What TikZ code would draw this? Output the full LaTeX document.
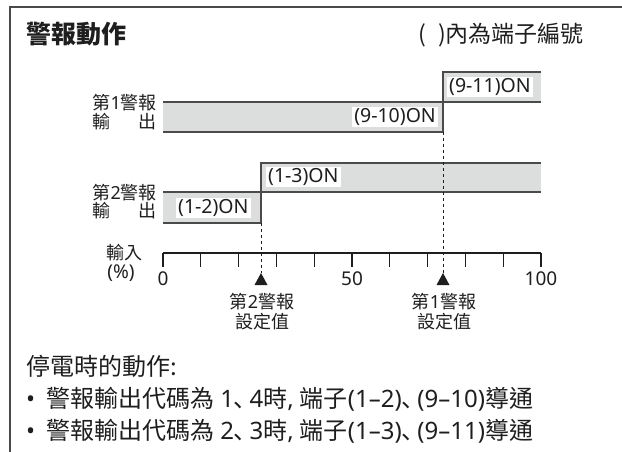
\documentclass[tikz,border=0pt]{standalone}
\usepackage{fontspec}
\setmainfont{Noto Sans CJK TC}
\newfontfamily\lat{Noto Sans}
\newfontfamily\cjksc[RawFeature=+halt]{Noto Sans CJK SC}
\definecolor{bandgray}{HTML}{DCDDDD}
\definecolor{linegray}{HTML}{4A4A4A}
\definecolor{txt}{HTML}{1E1E1E}
\newcommand{\fs}[1]{\fontsize{#1}{#1}\selectfont}
\newcommand{\dun}{{\cjksc 、}\hspace{0.15em}}
\newcommand{\lt}[1]{{\lat #1}}
\tikzset{
  band/.style={fill=bandgray, draw=none},
  sig/.style={draw=linegray, line width=1.5pt},
  guide/.style={draw=txt, line width=1pt, dash pattern=on 3pt off 3pt},
  axis/.style={draw=txt, line width=1.2pt},
  lbl/.style={font=\fs{18}, text=txt, inner sep=0pt},
  num/.style={font=\lat\fs{19}, text=txt, inner sep=0pt},
  onbox/.style={fill=white, font=\lat\fs{19.5}, text=txt, inner xsep=2pt, inner ysep=1pt},
  tri/.style={fill=txt, draw=none},
  note/.style={anchor=west, font=\fs{24}, text=txt, inner sep=0pt},
}
\begin{document}
\begin{tikzpicture}[x=1pt,y=-1pt]
\useasboundingbox (0,0) rectangle (622,452);
\draw[draw=linegray, line width=1.5pt] (10,452) -- (10,7) -- (622,7);

\node[anchor=west, font=\bfseries\fs{25}, text=txt, inner sep=0pt] (title) at (26,34) {警報動作};
\node[anchor=east, font=\fs{23}, text=txt, inner sep=0pt] (note) at (584,35) {(\hspace{0.5em})內為端子編號};

% alarm 1
\coordinate (a1s) at (163,132);
\coordinate (a1m) at (163,102);
\coordinate (a1e) at (541,102);
\coordinate (a1lo) at (443,132);
\coordinate (a1hi) at (443,72);
\coordinate (a1end) at (541,72);
\fill[band] (163,102) rectangle (443,132);
\fill[band] (443,72) rectangle (541,102);
\draw[sig] (a1m) -- (a1e);
\draw[sig] (a1s) -- (a1lo) -- (a1hi) -- (a1end);
\node[onbox, anchor=east] (on910) at (438,117) {(9-10)ON};
\node[onbox, anchor=west] (on911) at (447,87) {(9-11)ON};
\node[lbl, anchor=east] (a1l1) at (157,103) {第\lt{1}警報};
\node[lbl, anchor=east] (a1l2) at (157,122) {\makebox[3.6em][s]{輸\hfill 出}};

% alarm 2
\coordinate (a2s) at (163,223);
\coordinate (a2m) at (163,192);
\coordinate (a2e) at (541,192);
\coordinate (a2lo) at (261,223);
\coordinate (a2hi) at (261,163);
\coordinate (a2end) at (541,163);
\fill[band] (163,192) rectangle (261,223);
\fill[band] (261,163) rectangle (541,192);
\draw[sig] (a2m) -- (a2e);
\draw[sig] (a2s) -- (a2lo) -- (a2hi) -- (a2end);
\node[onbox, anchor=west] (on12) at (176,208) {(1-2)ON};
\node[onbox, anchor=west] (on13) at (266,177) {(1-3)ON};
\node[lbl, anchor=east] (a2l1) at (157,193) {第\lt{2}警報};
\node[lbl, anchor=east] (a2l2) at (157,211) {\makebox[3.6em][s]{輸\hfill 出}};

% axis
\coordinate (ax0) at (163,253);
\coordinate (ax1) at (541,253);
\draw[axis] (ax0) -- (ax1);
\foreach \i in {0,...,10} {
  \draw[axis] ({163+37.8*\i},253) -- ++(0,14);
}
\node[num] (t0) at (163,279) {0};
\node[num] (t50) at (352,279) {50};
\node[num] (t100) at (541,279) {100};
\node[lbl] (in1) at (124,253) {輸入};
\node[num] (in2) at (121,273) {(\%)};

% set points
\coordinate (sp2) at (261,273);
\coordinate (sp1) at (443,273);
\draw[guide] (a2lo) -- (sp2);
\draw[guide] (a1lo) -- (sp1);
\fill[tri] (261,273) -- (254.5,285) -- (267.5,285) -- cycle;
\fill[tri] (443,273) -- (436.5,285) -- (449.5,285) -- cycle;
\node[lbl, align=center] (sp2l) at (262,312) {第\lt{2}警報\\[2pt]設定值};
\node[lbl, align=center] (sp1l) at (444,312) {第\lt{1}警報\\[2pt]設定值};

% notes
\node[note] (n0) at (26,366) {停電時的動作:};
\node[note] (n1) at (26,399) {\lt{•}\hspace{0.45em}警報輸出代碼為\lt{ 1}\dun\lt{4}時\lt{, }端子\lt{(1–2)}\dun\lt{(9–10)}導通};
\node[note] (n2) at (26,431) {\lt{•}\hspace{0.45em}警報輸出代碼為\lt{ 2}\dun\lt{3}時\lt{, }端子\lt{(1–3)}\dun\lt{(9–11)}導通};
\end{tikzpicture}
\end{document}
